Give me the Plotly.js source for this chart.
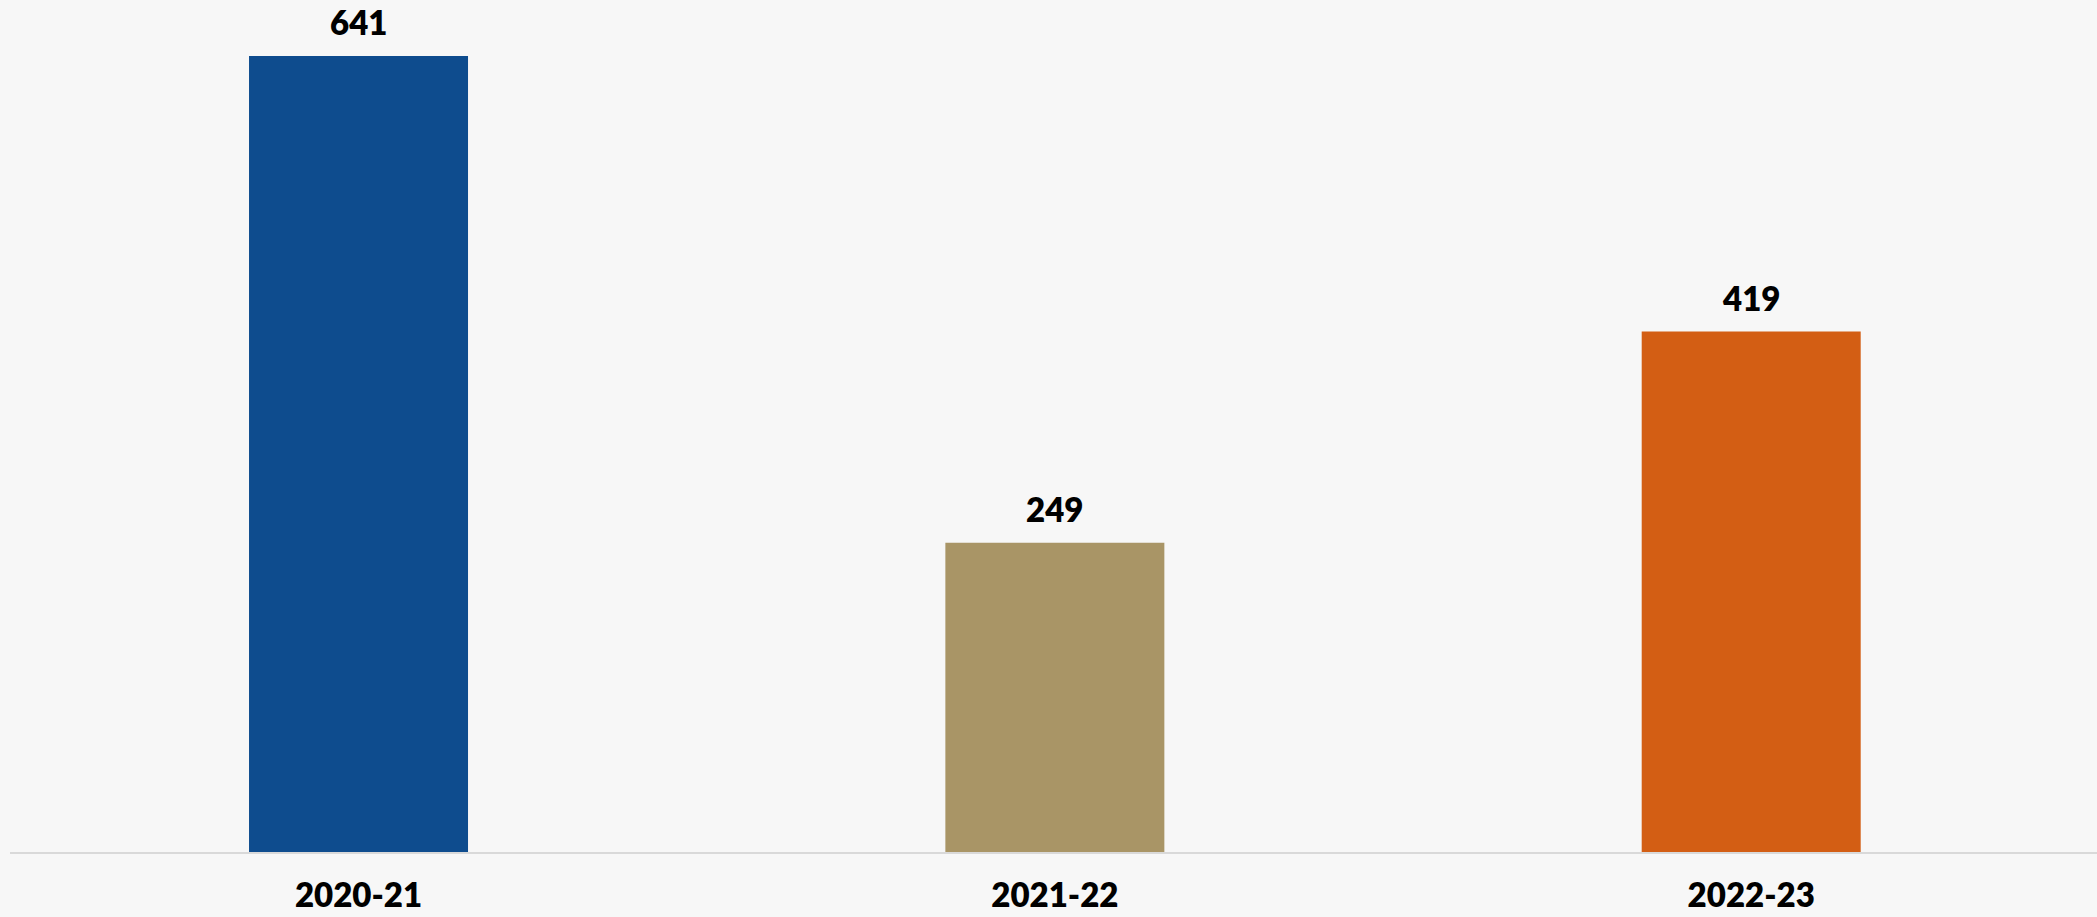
<!DOCTYPE html>
<html>
<head>
<meta charset="utf-8">
<script src="https://cdn.plot.ly/plotly-3.0.1.min.js"></script>
<style>
html,body{margin:0;padding:0;background:#f7f7f7;}
#chart{width:2097px;height:917px;}
</style>
</head>
<body>
<div id="chart"></div>
<script>
const categories = ["2020-21", "2021-22", "2022-23"];
const values = [641, 249, 419];
const barColors = ["#0E4C8E", "#A99566", "#D35E14"];

const fontFamily = "Lato, 'Open Sans', sans-serif";

const annotations = categories.map((c, i) => ({
  x: c, y: values[i], text: String(values[i]),
  showarrow: false, yanchor: "bottom", yshift: 12,
  font: {family: fontFamily, size: 33, color: "#000", weight: 800}
}));

const trace = {
  type: "bar",
  x: categories,
  y: values,
  width: 0.3145,
  marker: {color: barColors},
  hoverinfo: "skip"
};

const layout = {
  width: 2097, height: 917,
  margin: {l: 10, r: 0, t: 0, b: 65},
  paper_bgcolor: "#f7f7f7",
  plot_bgcolor: "#f7f7f7",
  showlegend: false,
  xaxis: {
    range: [-0.5005, 2.4966],
    showgrid: false, zeroline: false,
    showline: true, linecolor: "#d9d9d9", linewidth: 1.5,
    ticks: "", ticklabelstandoff: 14,
    tickfont: {family: fontFamily, size: 33, color: "#000", weight: 800}
  },
  yaxis: {
    range: [0, 686], showgrid: false, zeroline: false,
    showticklabels: false, showline: false, ticks: ""
  },
  annotations: annotations
};

Plotly.newPlot("chart", [trace], layout, {displayModeBar: false, staticPlot: true});
</script>
</body>
</html>
